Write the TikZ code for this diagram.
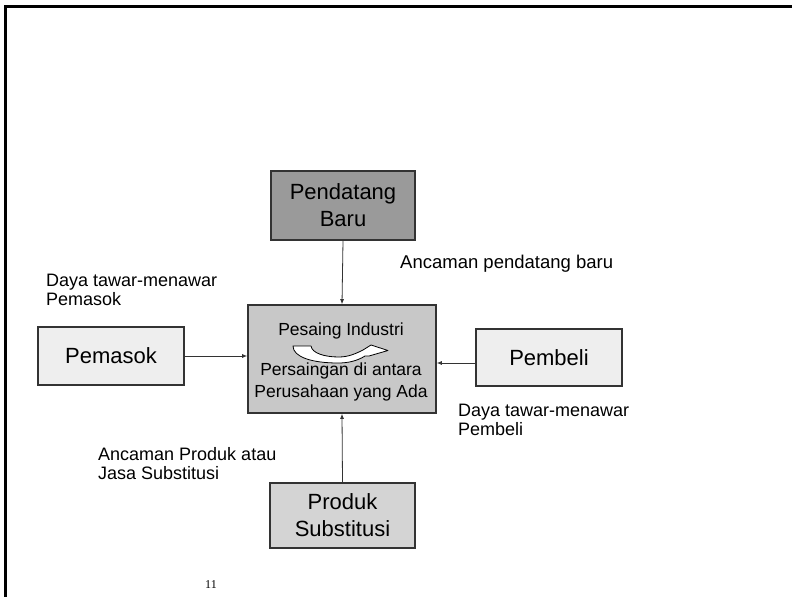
\documentclass[tikz,border=0pt]{standalone}
\usepackage{fontspec}
\setmainfont{Liberation Sans}
\newfontfamily\pagenumfont{Liberation Serif}
\usetikzlibrary{arrows.meta}

\definecolor{baruGray}{HTML}{9A9A9A}
\definecolor{pesaingGray}{HTML}{C8C8C8}
\definecolor{pihakGray}{HTML}{EEEEEE}
\definecolor{produkGray}{HTML}{D4D4D4}
\definecolor{edgeGray}{HTML}{333333}

\begin{document}
\begin{tikzpicture}[x=1pt, y=-1pt,
    kotak/.style = {draw=edgeGray, line width=1.6pt, inner sep=0pt, align=center,
                    font=\fontsize{22}{27}\selectfont},
    teks/.style = {anchor=base west, inner sep=0pt, align=left,
                   font=\fontsize{18}{19}\selectfont},
    panah/.style = {draw=edgeGray, line width=0.8pt, -{Latex[length=5pt, width=4pt]}}]
    \useasboundingbox (0, 0) rectangle (792, 597);
    \draw[line width=2.5pt] (4, 6.5) -- (792, 6.5);
    \draw[line width=2.5pt] (5.5, 5) -- (5.5, 597);

    \node[kotak, fill=baruGray, minimum width=144pt, minimum height=69pt] (baru) at (343, 205.5) {Pendatang\\Baru};
    \node[kotak, fill=pesaingGray, minimum width=188pt, minimum height=108pt] (pesaing) at (342, 359) {};
    \node[kotak, fill=pihakGray, minimum width=146pt, minimum height=58pt] (pemasok) at (111, 356) {Pemasok};
    \node[kotak, fill=pihakGray, minimum width=146pt, minimum height=57pt] (pembeli) at (549, 357.5) {Pembeli};
    \node[kotak, fill=produkGray, minimum width=145pt, minimum height=65pt] (produk) at (342.5, 515.5) {Produk\\Substitusi};

    \node[teks, anchor=base, font=\fontsize{17.5}{22}\selectfont] (judul) at (341, 335) {Pesaing Industri};
    \node[teks, anchor=base, align=center, font=\fontsize{17.5}{22}\selectfont] (rival) at (341, 397) {Persaingan di antara\\Perusahaan yang Ada};
    \draw[draw=black, fill=white, line width=0.8pt, line join=round]
        (293, 346) -- (311, 346) .. controls (312, 353) and (324, 357) .. (339, 357)
        .. controls (349, 357) and (357, 353) .. (363, 350) -- (371, 345) -- (388, 350.5) -- (369, 356) -- (365, 356)
        .. controls (357, 361) and (348, 363) .. (338, 363)
        .. controls (312, 363) and (293, 357) .. (293, 346) -- cycle;

    \draw[panah] (baru.south) -- (pesaing.north);
    \draw[panah] (pemasok.east) -- (pesaing.west |- pemasok.east);
    \draw[panah] (pembeli.west |- 0, 363) -- (pesaing.east |- 0, 363);
    \draw[panah] (produk.north) -- (pesaing.south);

    \node[teks, font=\fontsize{18.5}{19}\selectfont] (ancamanbaru) at (400, 268) {Ancaman pendatang baru};
    \node[teks] (tawarpemasok) at (46, 305) {Daya tawar-menawar\\Pemasok};
    \node[teks] (tawarpembeli) at (458, 435) {Daya tawar-menawar\\Pembeli};
    \node[teks] (ancamanproduk) at (98, 479) {Ancaman Produk atau\\Jasa Substitusi};
    \node[inner sep=0pt, font=\pagenumfont\fontsize{12}{14}\selectfont] (halaman) at (211, 585) {11};
\end{tikzpicture}
\end{document}
